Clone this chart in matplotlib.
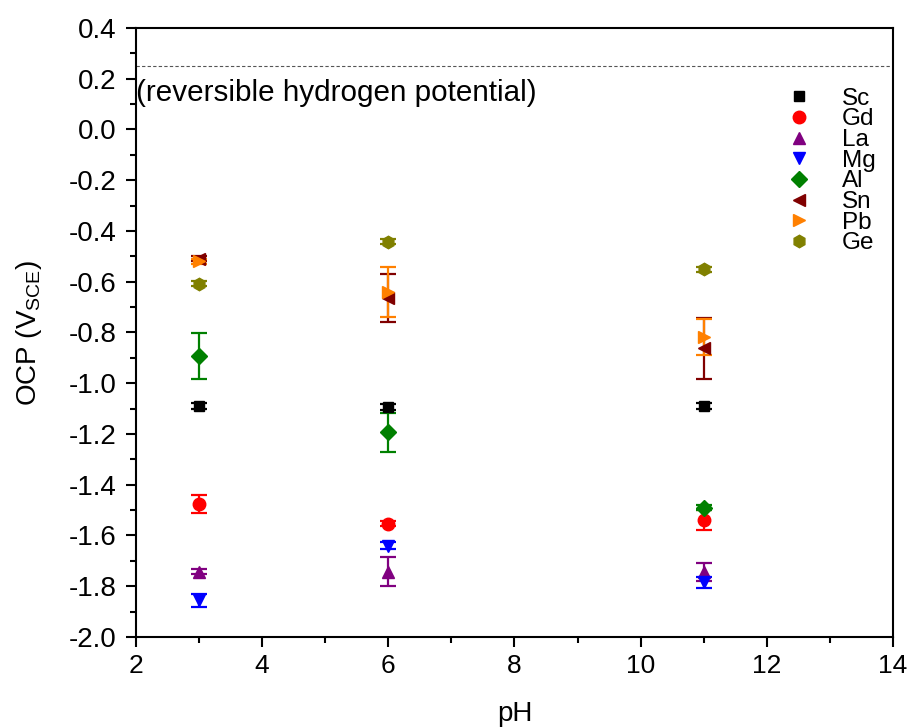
import matplotlib
matplotlib.use("Agg")
import matplotlib.pyplot as plt
from matplotlib.ticker import MultipleLocator, FormatStrFormatter
from matplotlib.lines import Line2D

plt.rcParams['font.family'] = ['Liberation Sans', 'DejaVu Sans']

pH = [3, 6, 11]
names = ["Sc", "Gd", "La", "Mg", "Al", "Sn", "Pb", "Ge"]
Sc = [-1.088, -1.092, -1.090]
Sc_err = [0.012, 0.012, 0.012]
Gd = [-1.475, -1.553, -1.540]
Gd_err = [0.035, 0.010, 0.040]
La = [-1.742, -1.742, -1.745]
La_err = [0.010, 0.056, 0.035]
Mg = [-1.855, -1.640, -1.785]
Mg_err = [0.025, 0.015, 0.020]
Al = [-0.893, -1.193, -1.490]
Al_err = [0.090, 0.077, 0.010]
Sn = [-0.510, -0.665, -0.862]
Sn_err = [0.010, 0.095, 0.120]
Pb = [-0.520, -0.640, -0.817]
Pb_err = [0.010, 0.100, 0.070]
Ge = [-0.607, -0.443, -0.551]
Ge_err = [0.010, 0.010, 0.010]
rhe = 0.25

series = [Sc, Gd, La, Mg, Al, Sn, Pb, Ge]
errors = [Sc_err, Gd_err, La_err, Mg_err, Al_err, Sn_err, Pb_err, Ge_err]
colors = ["#000000", "#FF0000", "#800080", "#0000FF", "#008000", "#800000", "#FF8000", "#808000"]
markers = ["s", "o", "^", "v", "D", "<", ">", "h"]
msizes = [7, 9, 9, 9, 8, 9, 9, 9]

fig = plt.figure(figsize=(9.14, 7.27), dpi=100)
ax = fig.add_axes([0.1488, 0.1238, 0.977 - 0.1488, 0.9615 - 0.1238])

handles = []
for name, y, e, c, m, ms in zip(names, series, errors, colors, markers, msizes):
    ax.errorbar(pH, y, yerr=e, fmt=m, color=c, ms=ms, mec=c, mfc=c,
                elinewidth=1.6, capsize=5.5, capthick=1.6, zorder=3)
    handles.append(Line2D([], [], ls="none", marker=m, color=c, ms=ms, label=name))

ax.axhline(rhe, color="#555555", ls=(0, (3, 2)), lw=0.8)
ax.text(2.0, 0.145, "(reversible hydrogen potential)", fontsize=21.3, va="center", ha="left")

ax.set_xlim(2, 14)
ax.set_ylim(-2.0, 0.4)
ax.xaxis.set_major_locator(MultipleLocator(2))
ax.xaxis.set_minor_locator(MultipleLocator(1))
ax.yaxis.set_major_locator(MultipleLocator(0.2))
ax.yaxis.set_minor_locator(MultipleLocator(0.1))
ax.yaxis.set_major_formatter(FormatStrFormatter("%.1f"))
ax.tick_params(which="major", direction="out", length=7, width=1.5, labelsize=19, pad=5)
ax.tick_params(axis="y", which="major", labelsize=20, pad=7)
ax.tick_params(which="minor", direction="out", length=4, width=1.5)
for s in ax.spines.values():
    s.set_linewidth(1.5)

ax.set_xlabel("pH", fontsize=20, labelpad=17)
ax.set_ylabel("OCP (V$_{\\mathregular{SCE}}$)", fontsize=20, labelpad=18)

ax.legend(handles=handles, loc="upper left", bbox_to_anchor=(0.847, 0.918),
          frameon=False, fontsize=17.5, labelspacing=-0.055, handletextpad=1.25,
          handlelength=1.0, borderaxespad=0, borderpad=0.4)

fig.savefig("out.png", dpi=100)
